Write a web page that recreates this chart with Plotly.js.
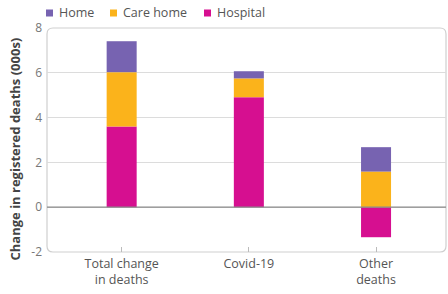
<!DOCTYPE html>
<html><head><meta charset="utf-8">
<script src="https://cdn.plot.ly/plotly-3.0.1.min.js"></script>
<style>html,body{margin:0;padding:0;background:#fff}#c{width:448px;height:294px}</style>
</head><body><div id="c"></div>
<script>
var categories = ["Total change<br>in deaths", "Covid-19", "Other<br>deaths"];
var hospital = [3.6, 4.91, -1.34];
var careHome = [2.43, 0.84, 1.59];
var home = [1.38, 0.32, 1.09];
var seriesNames = ["Home", "Care home", "Hospital"];
var colors = {"Home": "#7763B1", "Care home": "#FBB31B", "Hospital": "#D60F90"};
var yTicks = [-2, 0, 2, 4, 6, 8];

function bar(name, vals) {
  return {type: "bar", name: name, x: categories, y: vals, width: 0.236,
    marker: {color: colors[name], line: {width: 0}}, hoverinfo: "none"};
}
var data = [bar("Hospital", hospital), bar("Care home", careHome), bar("Home", home)];

var rx = 6/399, ry = 6/224;
var framePath = "M " + rx + ",0 L " + (1-rx) + ",0 Q 1,0 1," + ry +
  " L 1," + (1-ry) + " Q 1,1 " + (1-rx) + ",1 L " + rx + ",1 Q 0,1 0," + (1-ry) +
  " L 0," + ry + " Q 0,0 " + rx + ",0 Z";

var shapes = [
  {type: "path", xref: "paper", yref: "paper", path: framePath, line: {color: "#cfcfcf", width: 1.2}, layer: "below"},
  {type: "line", xref: "paper", yref: "y", x0: 0, x1: 1, y0: 0, y1: 0, line: {color: "#8a8a8a", width: 1.2}, layer: "above"}
];
var annotations = [
  {text: "<b>Change in registered deaths (000s)</b>", xref: "paper", yref: "paper", x: -0.08, y: 0.458,
   textangle: -90, showarrow: false, xanchor: "center", yanchor: "middle",
   font: {family: "Open Sans", size: 13, color: "#444"}}
];
// custom legend
var legX = [49.5, 113.5, 207.5];
seriesNames.forEach(function(n, i) {
  var px = (legX[i] - 47) / 399;
  shapes.push({type: "rect", xref: "paper", yref: "paper",
    x0: px - 3.5/399, x1: px + 3.5/399, y0: 1 + (28-16.5)/224, y1: 1 + (28-9.5)/224,
    fillcolor: colors[n], line: {width: 0}});
  annotations.push({text: n, xref: "paper", yref: "paper", x: px + 7/399, y: 1 + (28-13)/224,
    xanchor: "left", yanchor: "middle", showarrow: false,
    font: {family: "Open Sans", size: 12.5, color: "#555"}});
});

var layout = {
  width: 448, height: 294,
  margin: {l: 47, r: 2, t: 28, b: 42, pad: 0},
  paper_bgcolor: "#fff", plot_bgcolor: "rgba(0,0,0,0)",
  barmode: "relative", showlegend: false,
  font: {family: "Open Sans", size: 12, color: "#555"},
  xaxis: {range: [-0.587, 2.55], showgrid: false, zeroline: false, showline: false,
    ticks: "inside", ticklen: 5, tickcolor: "#bbb", tickwidth: 1, ticklabelstandoff: 2,
    tickfont: {family: "Open Sans", size: 12.5, color: "#555"}, fixedrange: true},
  yaxis: {range: [-2, 8], tickvals: yTicks, ticktext: yTicks.map(String), showgrid: true, gridcolor: "#dcdcdc",
    gridwidth: 1, zeroline: false, showline: false, ticks: "", ticklabelstandoff: 4,
    tickfont: {family: "Open Sans", size: 12, color: "#777"}, fixedrange: true},
  shapes: shapes, annotations: annotations
};
Plotly.newPlot("c", data, layout, {staticPlot: true, displayModeBar: false});
</script></body></html>
